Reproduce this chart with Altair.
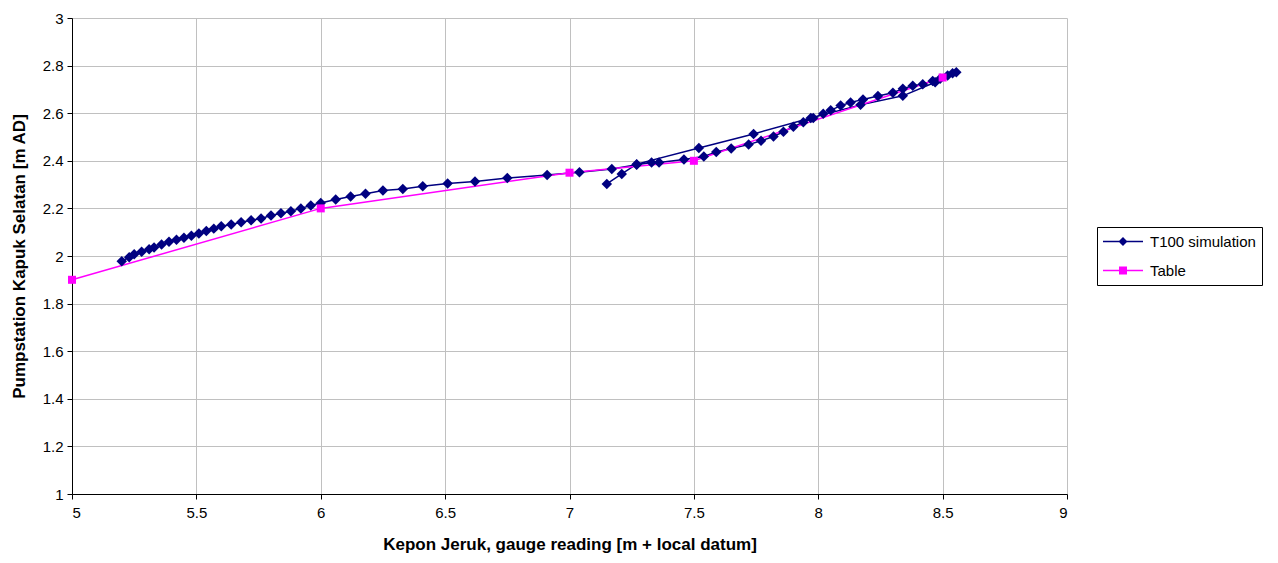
import altair as alt
import pandas as pd

# T100 simulation (ordered: rising limb then falling limb)
sim_x = [7.15, 7.21, 7.27, 7.52, 7.74, 7.97, 8.17, 8.34, 8.47, 8.555,
         8.54, 8.52, 8.49, 8.46, 8.42, 8.38, 8.34, 8.30, 8.24, 8.18, 8.13,
         8.09, 8.05, 8.02, 7.98, 7.94, 7.90, 7.86, 7.82, 7.77, 7.72, 7.65,
         7.59, 7.54, 7.46, 7.36, 7.33, 7.27, 7.17, 7.04, 6.91, 6.75, 6.62,
         6.51, 6.41, 6.33, 6.25, 6.18, 6.12, 6.06, 6.00, 5.96, 5.92, 5.88,
         5.84, 5.80, 5.76, 5.72, 5.68, 5.64, 5.60, 5.57, 5.54, 5.51, 5.48,
         5.45, 5.42, 5.39, 5.36, 5.33, 5.31, 5.28, 5.25, 5.23, 5.20]
sim_y = [2.303, 2.345, 2.386, 2.454, 2.513, 2.58, 2.635, 2.673, 2.73, 2.772,
         2.768, 2.758, 2.745, 2.735, 2.722, 2.715, 2.703, 2.686, 2.672, 2.658, 2.645,
         2.632, 2.612, 2.598, 2.58, 2.562, 2.543, 2.522, 2.502, 2.484, 2.468, 2.452,
         2.437, 2.418, 2.405, 2.393, 2.393, 2.383, 2.366, 2.352, 2.34, 2.328, 2.313,
         2.305, 2.293, 2.282, 2.275, 2.262, 2.25, 2.237, 2.223, 2.212, 2.2, 2.188,
         2.18, 2.17, 2.158, 2.15, 2.142, 2.132, 2.125, 2.115, 2.105, 2.095, 2.085,
         2.077, 2.068, 2.06, 2.048, 2.036, 2.028, 2.018, 2.007, 1.995, 1.978]

# Table
tab_x = [5.0, 6.0, 7.0, 7.5, 8.5]
tab_y = [1.90, 2.20, 2.35, 2.40, 2.75]

series_names = ["T100 simulation", "Table"]
series_colors = ["#000080", "#FF00FF"]

x_ticks = [5, 5.5, 6, 6.5, 7, 7.5, 8, 8.5, 9]
y_ticks = [1, 1.2, 1.4, 1.6, 1.8, 2, 2.2, 2.4, 2.6, 2.8, 3]

df = pd.concat([
    pd.DataFrame({"x": sim_x, "y": sim_y, "series": series_names[0], "order": range(len(sim_x))}),
    pd.DataFrame({"x": tab_x, "y": tab_y, "series": series_names[1], "order": range(len(tab_x))}),
], ignore_index=True)

font = "Liberation Sans"

xenc = alt.X("x:Q", scale=alt.Scale(domain=[5, 9], nice=False, zero=False),
             axis=alt.Axis(values=x_ticks, title="Kepon Jeruk, gauge reading [m + local datum]",
                           labelExpr="datum.value", grid=True))
yenc = alt.Y("y:Q", scale=alt.Scale(domain=[1, 3], nice=False, zero=False),
             axis=alt.Axis(values=y_ticks, title="Pumpstation Kapuk Selatan [m  AD]",
                           labelExpr="datum.value", grid=True))
color_scale = alt.Scale(domain=series_names, range=series_colors)
legend_spec = alt.Legend(title=None, orient="none", legendX=1025, legendY=209,
                         symbolOpacity=1, symbolSize=289, symbolStrokeWidth=0,
                         labelFont=font, labelFontSize=15, labelColor="black",
                         labelOffset=30, rowPadding=12, padding=6,
                         strokeColor="black", fillColor="white")

base = alt.Chart(df)

lines = base.mark_line(strokeWidth=1.5).encode(
    x=xenc, y=yenc, color=alt.Color("series:N", scale=color_scale, legend=None),
    order="order:Q", detail="series:N"
)
points = base.mark_point(filled=True, opacity=1).encode(
    x=xenc, y=yenc, color=alt.Color("series:N", scale=color_scale, legend=None),
    shape=alt.Shape("series:N", scale=alt.Scale(domain=series_names, range=["diamond", "square"]), legend=None),
    size=alt.Size("series:N", scale=alt.Scale(domain=series_names, range=[110, 64]), legend=None),
)

legend_shapes = [
    "M-1,-0.088H3.706V0.088H-1Z M1.353,-0.53L1.883,0L1.353,0.53L0.823,0Z",
    "M-1,-0.088H3.706V0.088H-1Z M0.883,-0.47H1.823V0.47H0.883Z",
]
legend_layer = alt.Chart(pd.DataFrame({"series": series_names, "x": tab_x[:2], "y": tab_y[:2]})).mark_point(
    filled=True, opacity=0
).encode(
    x=xenc, y=yenc,
    color=alt.Color("series:N", scale=color_scale, legend=legend_spec),
    shape=alt.Shape("series:N", scale=alt.Scale(domain=series_names, range=legend_shapes), legend=legend_spec),
)

chart = alt.layer(lines, points, legend_layer).resolve_scale(
    color="independent", shape="independent", size="independent"
).properties(
    width=995, height=476,
    autosize=alt.AutoSizeParams(type="none"),
    padding={"left": 72, "top": 18, "right": 211, "bottom": 69},
    background="white",
).configure_view(stroke=None).configure_axis(
    labelFont=font, labelFontSize=15, labelColor="black",
    titleFont=font, titleFontSize=17, titleFontWeight="bold", titleColor="black",
    domainColor="black", domainWidth=1, tickColor="black", tickSize=5,
    gridColor="#c0c0c0", gridWidth=1,
).configure_axisX(labelPadding=6, titlePadding=16).configure_axisY(labelPadding=4, titlePadding=14)

chart.save("out.html", embed_options={"renderer": "svg", "actions": False})
